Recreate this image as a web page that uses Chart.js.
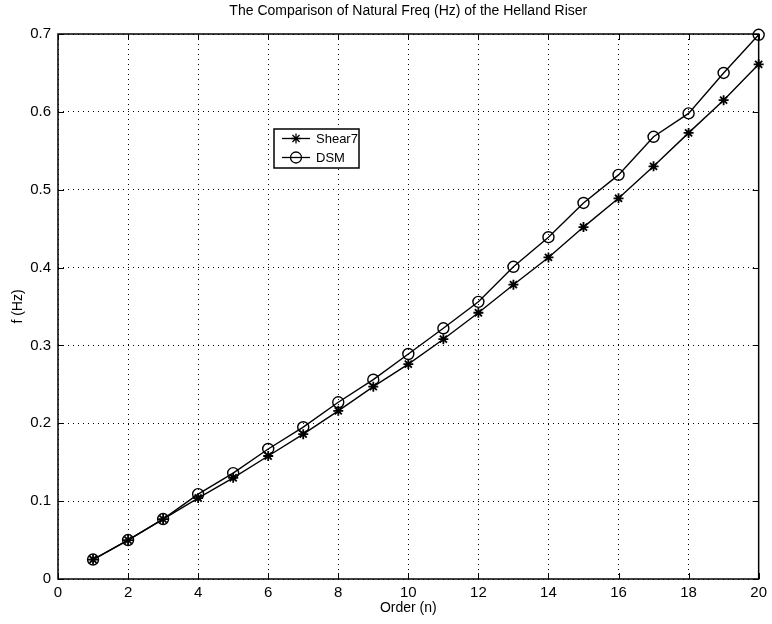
<!DOCTYPE html>
<html>
<head>
<meta charset="utf-8">
<script src="https://cdn.jsdelivr.net/npm/chart.js@4"></script>
<style>
  html, body { margin: 0; padding: 0; background: #fff; }
  #chart { display: block; }
</style>
</head>
<body>
<canvas id="chart" width="772" height="624"></canvas>
<script>
// order of natural frequency
var order = [1, 2, 3, 4, 5, 6, 7, 8, 9, 10, 11, 12, 13, 14, 15, 16, 17, 18, 19, 20]
// f (Hz)
var shear7 = [0.025, 0.050, 0.077, 0.104, 0.130, 0.158, 0.186, 0.216, 0.247, 0.276,
              0.308, 0.342, 0.378, 0.413, 0.452, 0.489, 0.530, 0.573, 0.615, 0.661]
var dsm = [0.025, 0.050, 0.077, 0.109, 0.136, 0.167, 0.195, 0.227, 0.256, 0.289,
           0.322, 0.356, 0.401, 0.439, 0.483, 0.519, 0.568, 0.598, 0.650, 0.699]
var xTicks = [0, 2, 4, 6, 8, 10, 12, 14, 16, 18, 20]
var yTicks = [0, 0.1, 0.2, 0.3, 0.4, 0.5, 0.6, 0.7]
var seriesNames = ['Shear7', 'DSM']

var font = 'Helvetica, Arial, "Liberation Sans", sans-serif'

function pts(ys){
    return order.map(function(x, i){ return {x: x, y: ys[i]} })
}

// box round the axes, small inward ticks and the legend inside the plot
var framePlugin = {
    id: 'frame',
    afterDatasetsDraw: function(chart){
        let ctx = chart.ctx
        let a = chart.chartArea
        let xs = chart.scales.x
        let ys = chart.scales.y
        ctx.save()
        ctx.strokeStyle = '#000'
        ctx.lineWidth = 1.5
        ctx.strokeRect(a.left, a.top, a.right - a.left, a.bottom - a.top)
        ctx.lineWidth = 1
        ctx.beginPath()
        for (let v of xTicks) {
            let px = Math.round(xs.getPixelForValue(v)) + 0.5
            ctx.moveTo(px, a.bottom); ctx.lineTo(px, a.bottom - 6)
            ctx.moveTo(px, a.top); ctx.lineTo(px, a.top + 6)
        }
        for (let v of yTicks) {
            let py = Math.round(ys.getPixelForValue(v)) + 0.5
            ctx.moveTo(a.left, py); ctx.lineTo(a.left + 6, py)
            ctx.moveTo(a.right, py); ctx.lineTo(a.right - 6, py)
        }
        ctx.stroke()

        // legend
        let bx = 274, by = 129, bw = 85, bh = 39
        ctx.fillStyle = '#fff'
        ctx.fillRect(bx, by, bw, bh)
        ctx.lineWidth = 1.5
        ctx.strokeRect(bx, by, bw, bh)
        ctx.font = '13px ' + font
        ctx.textBaseline = 'middle'
        ctx.textAlign = 'left'
        for (let i = 0; i < chart.data.datasets.length; i++) {
            let ds = chart.data.datasets[i]
            let y = by + 9.5 + i * 19
            ctx.strokeStyle = '#000'
            ctx.lineWidth = 1.3
            ctx.beginPath()
            ctx.moveTo(282, y); ctx.lineTo(310, y)
            ctx.stroke()
            ctx.fillStyle = ds.backgroundColor
            Chart.helpers.drawPoint(ctx, {
                pointStyle: ds.pointStyle, radius: ds.pointRadius, borderWidth: ds.pointBorderWidth, rotation: 0
            }, 296, y)
            ctx.fillStyle = '#000'
            ctx.fillText(seriesNames[i], 316, y + 1)
        }
        ctx.restore()
    }
}

new Chart(document.getElementById('chart').getContext('2d'), {
    type: 'line',
    data: {
        datasets: [{
            label: seriesNames[0],
            data: pts(shear7),
            borderColor: '#000',
            backgroundColor: '#000',
            borderWidth: 1.4,
            pointStyle: 'star',
            pointRadius: 5,
            pointBorderWidth: 1.8,
            clip: false,
            tension: 0
        }, {
            label: seriesNames[1],
            data: pts(dsm),
            borderColor: '#000',
            backgroundColor: 'rgba(0,0,0,0)',
            borderWidth: 1.4,
            pointStyle: 'circle',
            pointRadius: 5.5,
            pointBorderWidth: 1.4,
            clip: false,
            tension: 0
        }]
    },
    options: {
        responsive: false,
        animation: false,
        events: [],
        layout: { padding: { left: 0, right: 9, top: 0, bottom: 0 } },
        plugins: {
            legend: { display: false },
            tooltip: { enabled: false },
            title: {
                display: true,
                fullSize: false,
                text: 'The Comparison of Natural Freq (Hz) of the Helland Riser',
                color: '#000',
                font: { family: font, size: 14, weight: 'normal' },
                padding: { top: 3, bottom: 14.2 }
            }
        },
        scales: {
            x: {
                type: 'linear',
                min: 0,
                max: 20,
                afterBuildTicks: function(s){ s.ticks = xTicks.map(function(v){ return {value: v} }) },
                afterFit: function(s){ s.height = 45 },
                grid: { color: '#000', lineWidth: 1, drawTicks: false },
                border: { display: false, dash: [1, 4] },
                ticks: {
                    color: '#000',
                    padding: 5,
                    maxRotation: 0,
                    font: { family: font, size: 15 }
                },
                title: {
                    display: true,
                    text: 'Order (n)',
                    color: '#000',
                    padding: { top: 0, bottom: 7.6 },
                    font: { family: font, size: 14 }
                }
            },
            y: {
                type: 'linear',
                min: 0,
                max: 0.7,
                afterBuildTicks: function(s){ s.ticks = yTicks.map(function(v){ return {value: v} }) },
                afterFit: function(s){ s.width = 58 },
                grid: { color: '#000', lineWidth: 1, drawTicks: false },
                border: { display: false, dash: [1, 4] },
                ticks: {
                    color: '#000',
                    padding: 7,
                    font: { family: font, size: 15 },
                    callback: function(v){ return v === 0 ? '0' : v.toFixed(1) }
                },
                title: {
                    display: true,
                    text: 'f (Hz)',
                    color: '#000',
                    padding: { top: 9.6, bottom: 0 },
                    font: { family: font, size: 14 }
                }
            }
        }
    },
    plugins: [framePlugin]
})
</script>
</body>
</html>
